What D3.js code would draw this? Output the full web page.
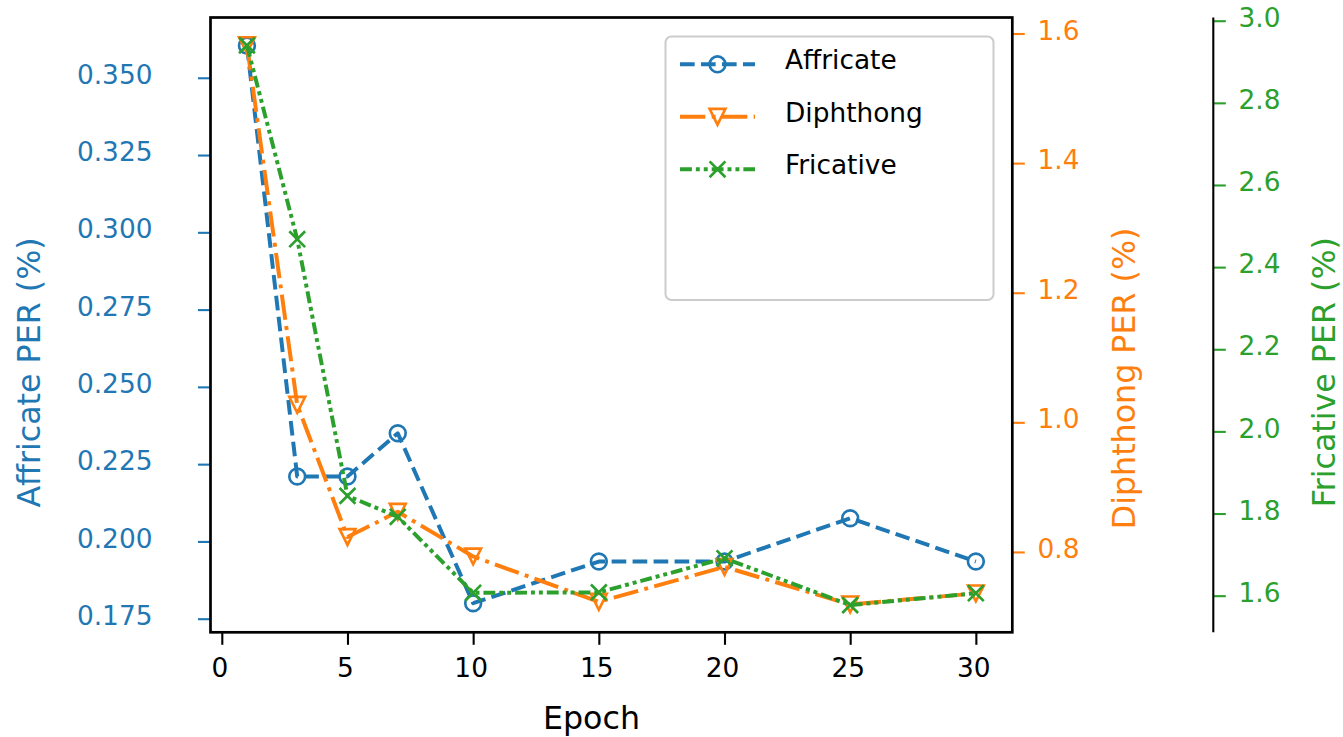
<!DOCTYPE html>
<html>
<head>
<meta charset="utf-8">
<script src="https://cdn.jsdelivr.net/npm/d3@7"></script>
<style>
  html, body { margin: 0; padding: 0; background: #fff; }
  svg { display: block; font-family: "DejaVu Sans", sans-serif; }
</style>
</head>
<body>
<svg id="chart" width="1343" height="737"></svg>
<script>
// ---------- data ----------
const epochs = [1, 3, 5, 7, 10, 15, 20, 25, 30];
const affricate = [0.3604, 0.221, 0.221, 0.235, 0.180, 0.1935, 0.1935, 0.2075, 0.1935];
const diphthong = [1.582, 1.027, 0.823, 0.862, 0.793, 0.723, 0.777, 0.719, 0.736];
const fricative = [2.940, 2.468, 1.843, 1.792, 1.607, 1.608, 1.691, 1.577, 1.606];

const seriesNames = ["Affricate", "Diphthong", "Fricative"];
const xTicks = [0, 5, 10, 15, 20, 25, 30];
const affricateTicks = [0.175, 0.200, 0.225, 0.250, 0.275, 0.300, 0.325, 0.350];
const diphthongTicks = [0.8, 1.0, 1.2, 1.4, 1.6];
const fricativeTicks = [1.6, 1.8, 2.0, 2.2, 2.4, 2.6, 2.8, 3.0];

const axisLabels = {x: "Epoch", a: "Affricate PER (%)", d: "Diphthong PER (%)", f: "Fricative PER (%)"};

// ---------- layout ----------
const L = 210.5, R = 1012.3, T = 17.5, B = 632.3;
const axis3X = 1213.3;
const C = {a: "#1f77b4", d: "#ff7f0e", f: "#2ca02c"};
const lw = 3.96, mew = 2.64, ms = 15.8;
const tickFont = 26.4, labelFont = 31.7;

const svg = d3.select("#chart");

const x = d3.scaleLinear().domain([-0.45, 31.45]).range([L, R]);
const yA = d3.scaleLinear().domain([0.1706, 0.3695]).range([B, T]);
const yD = d3.scaleLinear().domain([0.676, 1.6247]).range([B, T]);
const yF = d3.scaleLinear().domain([1.5108, 3.0078]).range([B, T]);

// ---------- axes ----------
function styleAxis(g, color, tw) {
  g.select(".domain").remove();
  g.selectAll(".tick line").attr("stroke", color).attr("stroke-width", tw || 2.1);
  g.selectAll(".tick text").attr("fill", color).attr("font-size", tickFont)
    .attr("font-family", "DejaVu Sans");
}

// x axis
const gx = svg.append("g").attr("transform", `translate(0,${B})`)
  .call(d3.axisBottom(x).tickValues(xTicks).tickSize(12.5).tickFormat(d3.format("d")));
styleAxis(gx, "#000");
gx.selectAll(".tick text").attr("x", -2.5).attr("y", 44.7).attr("dy", 0);

// left (Affricate)
const ga = svg.append("g").attr("transform", `translate(${L},0)`)
  .call(d3.axisLeft(yA).tickValues(affricateTicks).tickSize(12.5).tickFormat(d3.format(".3f")));
styleAxis(ga, C.a);
ga.selectAll(".tick text").attr("x", 152.5 - L).attr("dy", 0).attr("y", 5.6).attr("text-anchor", "end");

// right (Diphthong)
const gd = svg.append("g").attr("transform", `translate(${R},0)`)
  .call(d3.axisRight(yD).tickValues(diphthongTicks).tickSize(12.5).tickFormat(d3.format(".1f")));
styleAxis(gd, C.d);
gd.selectAll(".tick text").attr("x", 1037.5 - R).attr("dy", 0).attr("y", 5.6).attr("text-anchor", "start");

// third (Fricative)
const gf = svg.append("g").attr("transform", `translate(${axis3X},0)`)
  .call(d3.axisRight(yF).tickValues(fricativeTicks).tickSize(12.5).tickFormat(d3.format(".1f")));
styleAxis(gf, C.f);
gf.selectAll(".tick text").attr("x", 1238.5 - axis3X).attr("dy", 0).attr("y", 5.6).attr("text-anchor", "start");
gf.append("line").attr("x1", 0).attr("x2", 0).attr("y1", T).attr("y2", B)
  .attr("stroke", "#000").attr("stroke-width", 2.1);

// frame
svg.append("rect").attr("x", L).attr("y", T).attr("width", R - L).attr("height", B - T)
  .attr("fill", "none").attr("stroke", "#000").attr("stroke-width", 2.7);

// axis labels
svg.append("text").attr("x", 591.5).attr("y", 729).attr("text-anchor", "middle")
  .attr("font-size", labelFont).attr("fill", "#000").text(axisLabels.x);
svg.append("text").attr("transform", "translate(40,372.5) rotate(-90)").attr("text-anchor", "middle")
  .attr("font-size", labelFont).attr("fill", C.a).text(axisLabels.a);
svg.append("text").attr("transform", "translate(1134.5,378.4) rotate(-90)").attr("text-anchor", "middle")
  .attr("font-size", labelFont).attr("fill", C.d).text(axisLabels.d);
svg.append("text").attr("transform", "translate(1335,372.2) rotate(-90)").attr("text-anchor", "middle")
  .attr("font-size", labelFont).attr("fill", C.f).text(axisLabels.f);

// ---------- series ----------
const series = [
  {name: seriesNames[0], vals: affricate, y: yA, color: C.a, dash: [14.65, 6.34], marker: "o"},
  {name: seriesNames[1], vals: diphthong, y: yD, color: C.d, dash: [25.34, 6.34, 3.96, 6.34], marker: "v"},
  {name: seriesNames[2], vals: fricative, y: yF, color: C.f, dash: [11.88, 3.96, 3.96, 3.96, 3.96, 3.96], marker: "x"}
];

function drawMarker(g, type, cx, cy, color) {
  const h = ms / 2;
  if (type === "o") {
    g.append("circle").attr("cx", cx).attr("cy", cy).attr("r", h)
      .attr("fill", "none").attr("stroke", color).attr("stroke-width", mew);
  } else if (type === "v") {
    g.append("path").attr("d", `M${cx - h},${cy - h}L${cx + h},${cy - h}L${cx},${cy + h}Z`)
      .attr("fill", "none").attr("stroke", color).attr("stroke-width", mew)
      .attr("stroke-linejoin", "miter");
  } else if (type === "x") {
    g.append("path").attr("d", `M${cx - h},${cy - h}L${cx + h},${cy + h}M${cx - h},${cy + h}L${cx + h},${cy - h}`)
      .attr("fill", "none").attr("stroke", color).attr("stroke-width", mew);
  }
}

const plot = svg.append("g");
series.forEach(s => {
  const g = plot.append("g");
  const pts = epochs.map((e, i) => [x(e), s.y(s.vals[i])]);
  g.append("path").attr("d", d3.line()(pts)).attr("fill", "none")
    .attr("stroke", s.color).attr("stroke-width", lw)
    .attr("stroke-dasharray", s.dash.join(",")).attr("stroke-linecap", "butt")
    .attr("stroke-linejoin", "round");
  pts.forEach(p => drawMarker(g, s.marker, p[0], p[1], s.color));
});

// ---------- legend ----------
const lg = svg.append("g");
lg.append("rect").attr("x", 665.5).attr("y", 36.5).attr("width", 328).attr("height", 263.5)
  .attr("rx", 6).attr("ry", 6).attr("fill", "#fff").attr("fill-opacity", 0.8)
  .attr("stroke", "#cccccc").attr("stroke-width", 2);
series.forEach((s, i) => {
  const cy = 64.3 + i * 52.5;
  lg.append("line").attr("x1", 680).attr("x2", 755).attr("y1", cy).attr("y2", cy)
    .attr("stroke", s.color).attr("stroke-width", lw)
    .attr("stroke-dasharray", s.dash.join(",")).attr("stroke-linecap", "butt");
  drawMarker(lg, s.marker, 717.5, cy, s.color);
  lg.append("text").attr("x", 785).attr("y", cy + 5).attr("font-size", tickFont)
    .attr("fill", "#000").text(s.name);
});
</script>
</body>
</html>
